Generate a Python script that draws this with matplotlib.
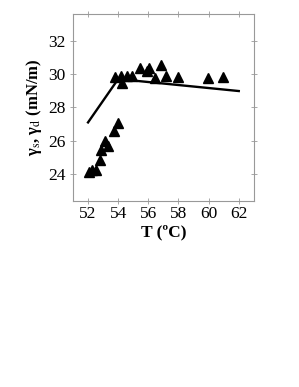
import matplotlib
matplotlib.use("Agg")
import matplotlib.pyplot as plt

T_pts = [52.05, 52.25, 52.5, 52.79, 52.84, 53.12, 53.34, 53.72, 54.0,
         53.78, 54.18, 54.27, 54.56, 54.89, 55.48, 55.94, 56.05, 56.47,
         56.87, 57.2, 57.97, 59.95, 60.94]
gamma_pts = [24.15, 24.25, 24.25, 24.84, 25.43, 25.97, 25.7, 26.6, 27.07,
             29.8, 29.9, 29.45, 29.9, 29.9, 30.39, 30.19, 30.39, 29.79,
             30.55, 29.9, 29.8, 29.78, 29.82]
T_line = [52.0, 54.0, 62.0]
gamma_line = [27.1, 29.7, 28.98]
xticks = [52, 54, 56, 58, 60, 62]
yticks = [24, 26, 28, 30, 32]

plt.rcParams['font.family'] = ['Liberation Serif', 'DejaVu Serif']
plt.rcParams['mathtext.fontset'] = 'stix'

fig = plt.figure(figsize=(2.99, 3.87), dpi=100)
ax = fig.add_axes([0.244, 0.481, 0.605, 0.483])
ax.plot(T_line, gamma_line, color='black', lw=1.7, zorder=2)
ax.plot(T_pts, gamma_pts, linestyle='none', marker='^', color='black', ms=7.5, zorder=3)
ax.set_xlim(51.0, 63.0)
ax.set_ylim(22.4, 33.6)
ax.set_xticks(xticks)
ax.set_yticks(yticks)
for s in ax.spines.values():
    s.set_color('#999999')
    s.set_linewidth(0.8)
ax.tick_params(direction='inout', length=5, width=0.6, color='#999999',
               top=True, right=True, labelsize=12.5, pad=3)
ax.tick_params(axis='x', pad=1)
ax.set_xlabel('T (ºC)', fontsize=12.5, fontweight='bold', labelpad=2)
ax.set_ylabel(r'γ$_\mathrm{s}$, γ$_\mathrm{d}$ (mN/m)', fontsize=12, fontweight='bold', labelpad=3)
fig.savefig('out.png', dpi=100)
